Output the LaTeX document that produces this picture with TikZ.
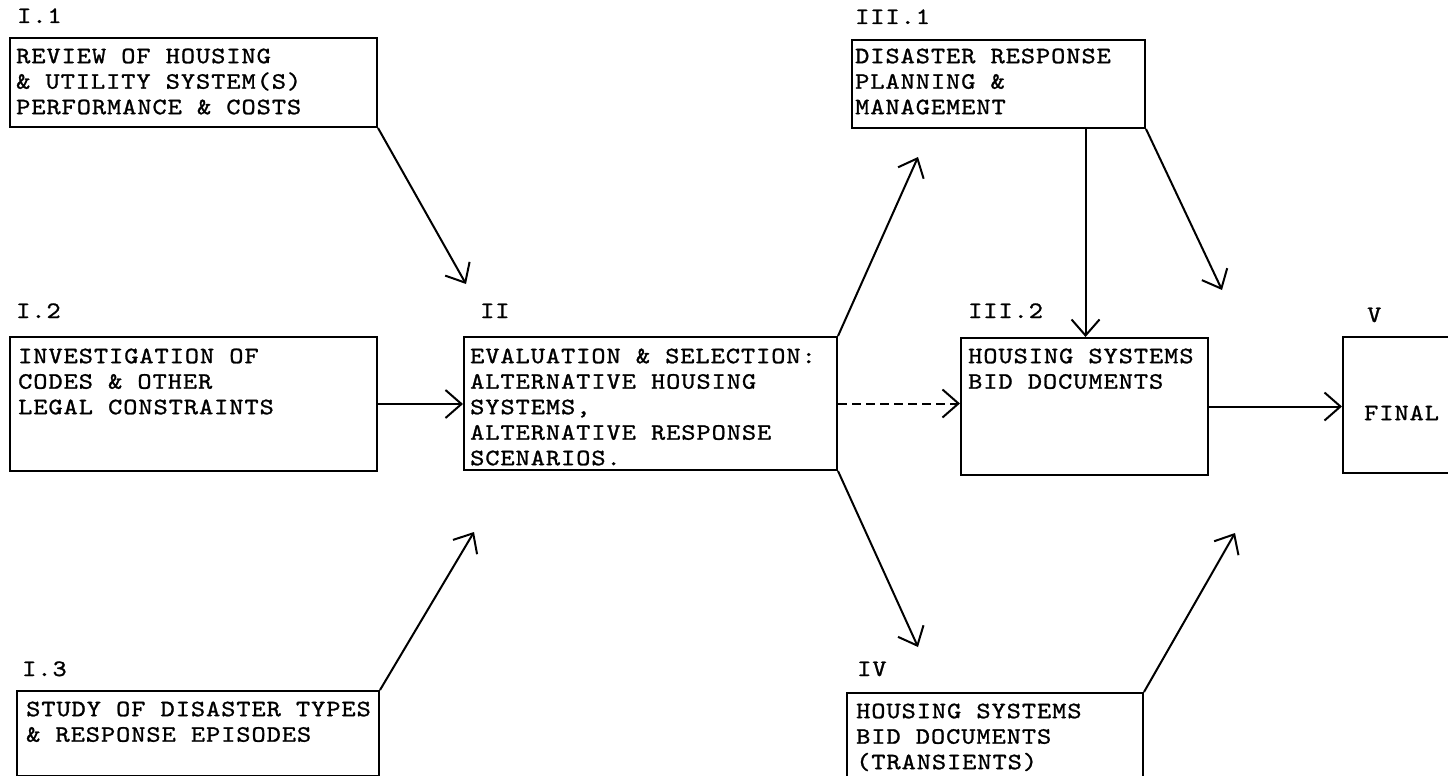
\documentclass[tikz,border=0pt]{standalone}
\usepackage{fontspec}
\usetikzlibrary{arrows.meta}
\newfontfamily\twfam{lmmono10-regular}[Extension=.otf,FakeStretch=1.15,LetterSpace=4.1,FakeBold=1.1]
\newcommand\myfst{\rule{0pt}{20pt}}
\newcommand\twf{\twfam\fontsize{23.5pt}{25.5pt}\selectfont}
\begin{document}
\begin{tikzpicture}[x=1pt,y=-1pt,
  box/.style={draw,line width=2pt,inner sep=0pt,anchor=north west},
  txt/.style={font=\twf,align=left,inner sep=0pt,anchor=north west},
  lab/.style={font=\twf,inner sep=0pt,anchor=base west},
  arr/.style={line width=2pt,-{Straight Barb[length=16pt,width=28pt]}}]
\useasboundingbox (0,0) rectangle (1448,776);
\fill[white] (0,0) rectangle (1448,776);
\clip (0,0) rectangle (1448,776);
% boxes
\node[box,minimum width=367pt,minimum height=89pt] (b11) at (9,37) {};
\node[box,minimum width=367pt,minimum height=134pt] (b12) at (9,336) {};
\node[box,minimum width=362pt,minimum height=85pt] (b13) at (16,690) {};
\node[box,minimum width=373pt,minimum height=133pt] (b2) at (463,336) {};
\node[box,minimum width=293pt,minimum height=88pt] (b31) at (851,39) {};
\node[box,minimum width=247pt,minimum height=137pt] (b32) at (960,337) {};
\node[box,minimum width=296pt,minimum height=84pt] (b4) at (846,692) {};
\node[box,minimum width=130pt,minimum height=136pt] (b5) at (1342,336) {};
% labels
\node[lab] (l11) at (17,23) {I.1};
\node[lab] (l31) at (855,24) {III.1};
\node[lab] (l12) at (16,318) {I.2};
\node[lab] (l2) at (480,318) {II};
\node[lab] (l32) at (968,318) {III.2};
\node[lab] (l5) at (1367,322) {V};
\node[lab] (l13) at (22,676) {I.3};
\node[lab] (l4) at (857,676) {IV};
% texts
\node[txt] (t11) at (16,43) {\myfst REVIEW OF HOUSING\\\& UTILITY SYSTEM(S)\\PERFORMANCE \& COSTS};
\node[txt] (t31) at (855,43) {\myfst DISASTER RESPONSE\\PLANNING \&\\MANAGEMENT};
\node[txt] (t12) at (18,343) {\myfst INVESTIGATION OF\\CODES \& OTHER\\LEGAL CONSTRAINTS};
\node[txt] (t2) at (470,343) {\myfst EVALUATION \& SELECTION:\\ALTERNATIVE HOUSING\\SYSTEMS,\\ALTERNATIVE RESPONSE\\SCENARIOS.};
\node[txt] (t32) at (968,343) {\myfst HOUSING SYSTEMS\\BID DOCUMENTS};
\node[txt] (t5) at (1364,400) {\myfst FINAL};
\node[txt] (t13) at (26,696) {\myfst STUDY OF DISASTER TYPES\\\& RESPONSE EPISODES};
\node[txt] (t4) at (856,698) {\myfst HOUSING SYSTEMS\\BID DOCUMENTS\\(TRANSIENTS)};
% free ends
\coordinate (e1) at (466,284);
\coordinate (e3) at (474,532);
\coordinate (e4) at (918,157);
\coordinate (e6) at (918,647);
\coordinate (e8) at (1222,290);
\coordinate (e10) at (1235,533);
\path (b31.south west) -- (b31.south east) coordinate[pos=0.795] (v1);
% connectors
\draw[arr] (b11.south east) -- (e1);
\draw[arr] (b12.east) -- (b12.east -| b2.west);
\draw[arr] (b13.north east) -- (e3);
\draw[arr] (b2.north east) -- (e4);
\draw[arr,dash pattern=on 9pt off 5pt] (b2.east) -- (b2.east -| b32.west);
\draw[arr] (b2.south east) -- (e6);
\draw[arr] (v1) -- (v1 |- b32.north);
\draw[arr] (b31.south east) -- (e8);
\draw[arr] (b32.east) -- (b32.east -| b5.west);
\draw[arr] (b4.north east) -- (e10);
\end{tikzpicture}
\end{document}
